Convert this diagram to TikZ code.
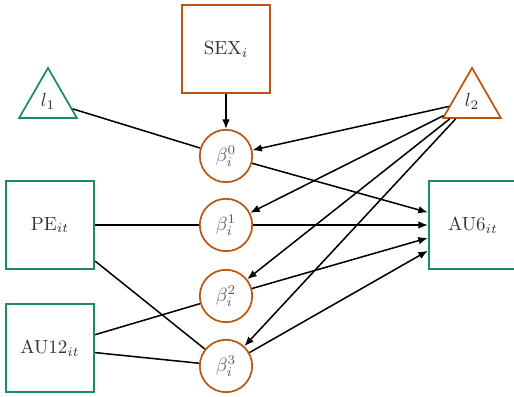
\documentclass[tikz,border=0pt]{standalone}
\usetikzlibrary{shapes.geometric,arrows.meta}
\definecolor{cgreen}{RGB}{27,138,107}
\definecolor{corange}{RGB}{186,86,18}
\begin{document}
\begin{tikzpicture}[x=0.525pt,y=-0.525pt,
  obsbox/.style={rectangle, draw=cgreen, line width=0.9pt, minimum size=46.5pt, inner sep=0pt, text=black!80},
  sexbox/.style={obsbox, draw=corange},
  coef/.style={circle, draw=corange, line width=0.9pt, minimum size=27.5pt, inner sep=0pt, text=black!65},
  tri/.style={regular polygon, regular polygon sides=3, minimum size=35pt, inner sep=0pt, line width=0.9pt, text=black!80},
  conn/.style={line width=0.8pt},
  arr/.style={conn, -{Latex[length=5pt,width=4pt]}}]
\clip (0,0) rectangle (514,397);
\node[sexbox] (sex) at (226,49) {SEX$_i$};
\node[tri, draw=cgreen] (l1) at (48,101.3) {$l_1$};
\node[tri, draw=corange] (l2) at (472,101.3) {$l_2$};
\node[coef] (b0) at (226,156) {$\beta_i^0$};
\node[coef] (b1) at (226,225) {$\beta_i^1$};
\node[coef] (b2) at (226,296) {$\beta_i^2$};
\node[coef] (b3) at (226,366) {$\beta_i^3$};
\node[obsbox] (pe) at (50,225) {PE$_{it}$};
\node[obsbox] (au12) at (50,348) {AU12$_{it}$};
\node[obsbox] (au6) at (473,225) {AU6$_{it}$};

\draw[arr] (sex) -- (b0);
\draw[conn] (l1) -- (b0);
\draw[arr] (l2) -- (b0);
\draw[arr] (l2) -- (b1);
\draw[arr] (l2) -- (b2);
\draw[arr] (l2) -- (b3);
\draw[arr] (b0) -- (au6);
\draw[arr] (b1) -- (au6);
\draw[arr] (b2) -- (au6);
\draw[arr] (b3) -- (au6);
\draw[conn] (pe) -- (b1);
\draw[conn] (pe) -- (b3);
\draw[conn] (au12) -- (b2);
\draw[conn] (au12) -- (b3);
\end{tikzpicture}
\end{document}
